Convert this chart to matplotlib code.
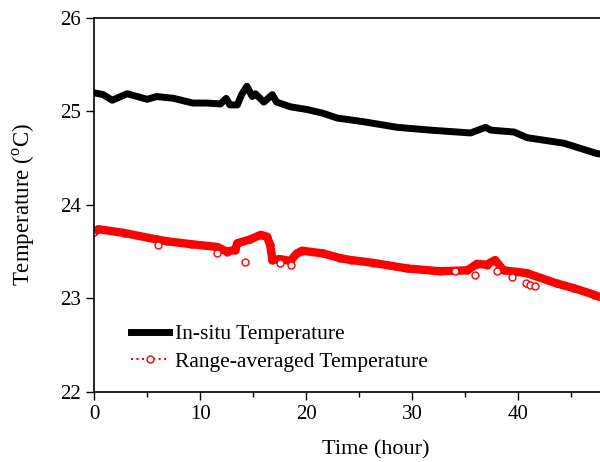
import matplotlib
matplotlib.use('Agg')
import matplotlib.pyplot as plt
from matplotlib.lines import Line2D

plt.rcParams['font.family'] = 'Liberation Serif'
plt.rcParams['mathtext.fontset'] = 'custom'
plt.rcParams['mathtext.rm'] = 'Liberation Serif'

# in-situ temperature (black)
t_insitu = [0.0, 0.85, 1.7, 3.1, 5.0, 5.9, 7.5, 9.3, 10.6, 11.9, 12.45, 12.8,
            13.5, 13.9, 14.4, 14.9, 15.2, 16.0, 16.8, 17.2, 18.5, 20.1, 21.6,
            22.9, 25.4, 28.6, 31.7, 35.5, 36.9, 37.4, 39.6, 40.8, 44.3, 47.4, 48.0]
T_insitu = [25.20, 25.18, 25.12, 25.19, 25.13, 25.16, 25.14, 25.09, 25.09, 25.08,
            25.14, 25.07, 25.07, 25.18, 25.27, 25.16, 25.19, 25.10, 25.18, 25.10,
            25.05, 25.02, 24.98, 24.93, 24.89, 24.83, 24.80, 24.77, 24.83, 24.80,
            24.78, 24.72, 24.66, 24.55, 24.54]

# range-averaged temperature (red), main trace
t_range = [0.0, 0.4, 2.8, 5.9, 6.9, 9.1, 11.6, 12.5, 13.3, 13.5, 14.7, 15.7,
           16.3, 16.6, 16.8, 17.5, 18.5, 19.1, 19.6, 21.6, 23.2, 24.2, 26.3,
           29.5, 32.6, 35.2, 36.1, 37.0, 37.8, 38.6, 40.8, 43.6, 45.2, 47.1, 48.0]
T_range = [23.71, 23.74, 23.70, 23.63, 23.61, 23.58, 23.55, 23.50, 23.52, 23.59,
           23.63, 23.68, 23.66, 23.57, 23.41, 23.42, 23.40, 23.48, 23.51, 23.48,
           23.43, 23.41, 23.38, 23.32, 23.29, 23.30, 23.37, 23.36, 23.41, 23.30,
           23.27, 23.16, 23.11, 23.04, 23.00]

# scattered range-averaged points off the main trace
t_scatter = [6.0, 11.6, 14.2, 17.5, 18.6, 34.0, 35.9, 38.0, 39.4, 40.7, 41.1, 41.6]
T_scatter = [23.57, 23.48, 23.39, 23.38, 23.36, 23.29, 23.25, 23.29, 23.23, 23.16,
             23.14, 23.13]

fig = plt.figure(figsize=(6.0, 4.62), dpi=100)
ax = fig.add_axes([0.157, 0.152, 0.843, 0.809])

ax.plot(t_range, T_range, color='red', lw=6, solid_capstyle='butt', zorder=2)
ax.plot(t_range, T_range, ls='none', marker='o', ms=5, mfc='none', mec='red',
        mew=1, zorder=2)
ax.plot(t_scatter, T_scatter, ls='none', marker='o', ms=5, mfc='white', mec='red',
        mew=1, zorder=2)
ax.plot(t_insitu, T_insitu, color='black', lw=5, zorder=3)

ax.set_xlim(0, 47.7)
ax.set_ylim(22, 26)
ax.set_xticks([0, 10, 20, 30, 40])
ax.set_xticks([5, 15, 25, 35, 45], minor=True)
ax.set_yticks([22, 23, 24, 25, 26])
ax.tick_params(which='major', direction='out', length=6, width=1,
               labelsize=15, top=False, right=False)
ax.tick_params(which='minor', direction='out', length=3.5, width=1)
ax.spines['right'].set_visible(False)
for s in ['left', 'bottom', 'top']:
    ax.spines[s].set_linewidth(1.2)

ax.set_xlabel('Time (hour)', fontsize=16)
ax.xaxis.set_label_coords(0.557, -0.13)
ax.set_ylabel(r'Temperature ($^{\mathrm{o}}$C)', fontsize=16.5, labelpad=17)

handles = [Line2D([], [], color='black', lw=5),
           Line2D([], [], color='red', ls=':', lw=1.5, marker='o', ms=5,
                  mfc='white', mec='red')]
ax.legend(handles, ['In-situ Temperature', 'Range-averaged Temperature'],
          loc='lower left', bbox_to_anchor=(0.055, 0.03), frameon=False,
          fontsize=15.5, handlelength=1.8, handletextpad=0.25, labelspacing=0.35,
          borderaxespad=0)

fig.savefig('out.png', dpi=100)
